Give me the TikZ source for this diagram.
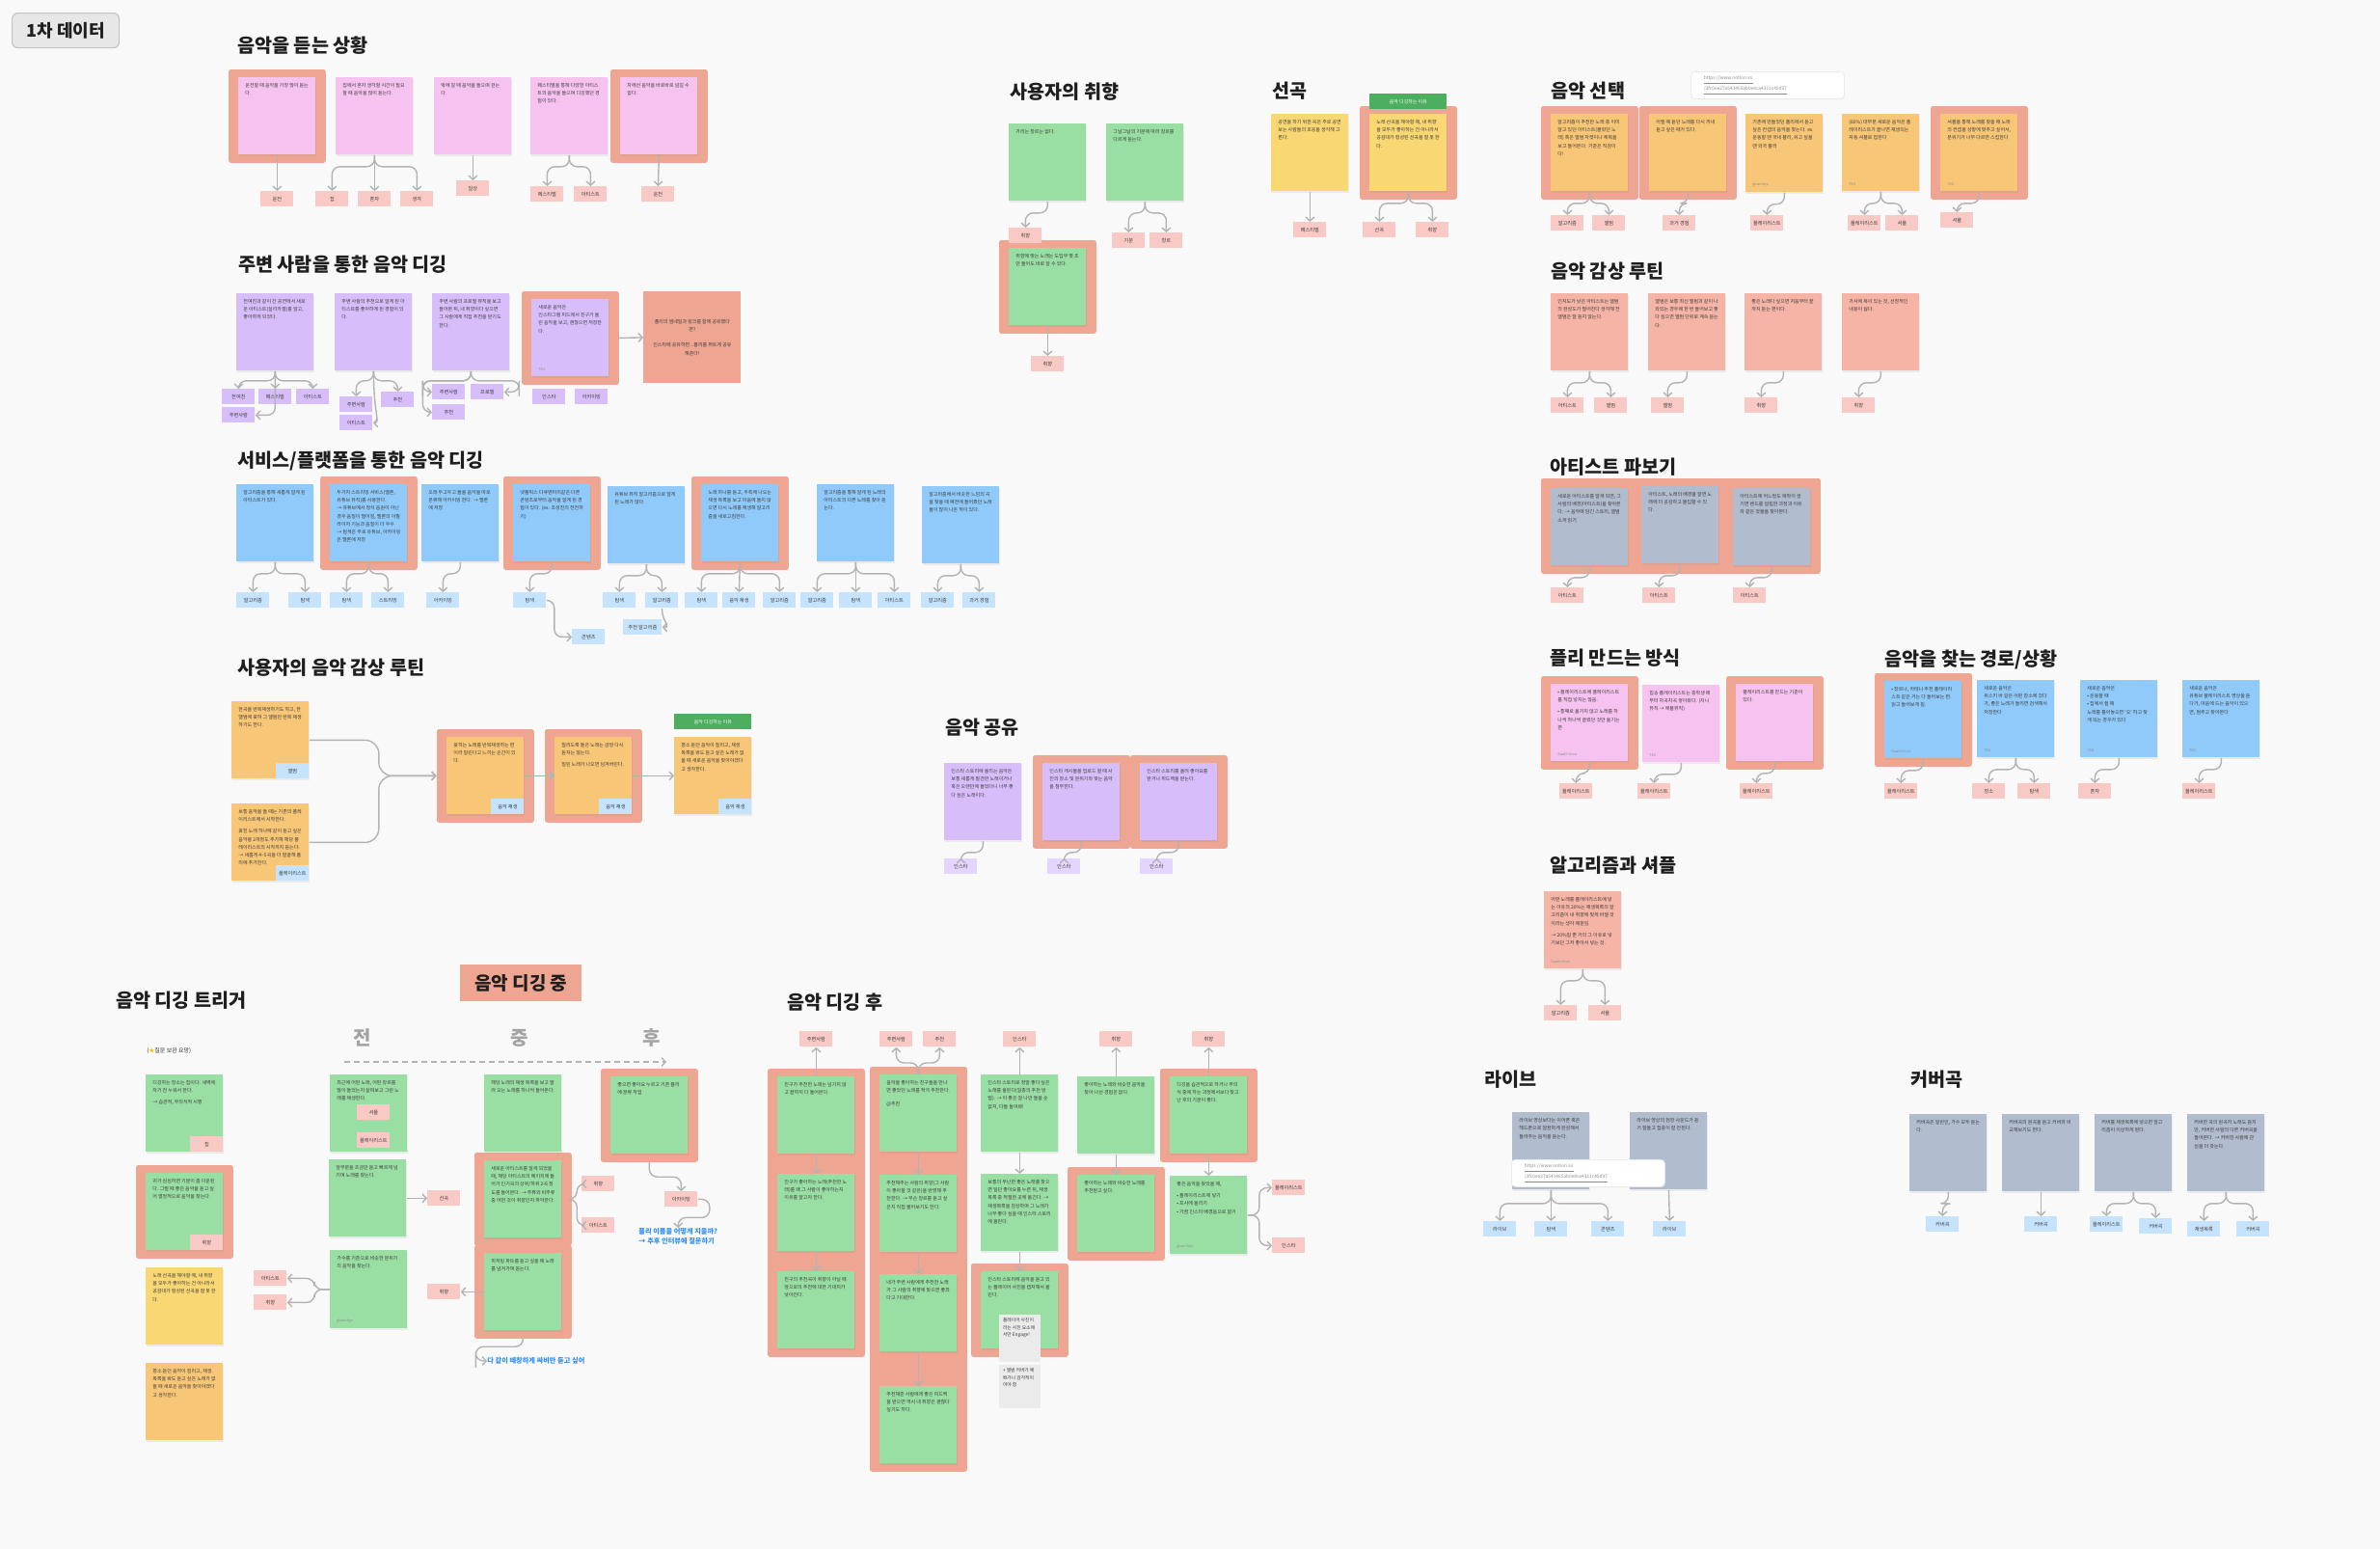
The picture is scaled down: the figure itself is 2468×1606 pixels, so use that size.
\documentclass[tikz,border=0pt]{standalone}
\usepackage{fontspec}
\setmainfont{Noto Sans CJK KR}
\usepackage{xcolor}
\usetikzlibrary{arrows.meta,fit,shadows}
\XeTeXlinebreaklocale "ko"
\XeTeXlinebreakskip=0pt plus 0.3pt

\definecolor{cBg}{HTML}{F9F9F9}
\definecolor{cFrame}{HTML}{EEA591}
\definecolor{cPink}{HTML}{F6C2EF}
\definecolor{cTag}{HTML}{F9CAC5}
\definecolor{cPurple}{HTML}{D7BEFB}
\definecolor{cLav}{HTML}{E3D5FD}
\definecolor{cBlueS}{HTML}{8FCAFA}
\definecolor{cTagBlue}{HTML}{C6E3FD}
\definecolor{cOrange}{HTML}{F8C677}
\definecolor{cGreen}{HTML}{99DEA3}
\definecolor{cYellow}{HTML}{F9D772}
\definecolor{cSlate}{HTML}{B1BCCF}
\definecolor{cSalm}{HTML}{F5B4A6}
\definecolor{cGreenL}{HTML}{4DAE5F}
\definecolor{cLine}{HTML}{B3B3B3}
\definecolor{cTxt}{HTML}{3A3A3A}
\definecolor{cHead}{HTML}{1E1E1E}
\definecolor{cBlueT}{HTML}{2F90F4}
\definecolor{cGray}{HTML}{A3A3A3}
\definecolor{cFoot}{HTML}{8C8C8C}
\definecolor{cNote}{HTML}{EBEBEB}
\definecolor{cTitle}{HTML}{E7E7E7}
\definecolor{cTitleB}{HTML}{C4C4C4}
\definecolor{cStar}{HTML}{F5C518}

\pgfdeclarelayer{bg}
\pgfdeclarelayer{frames}
\pgfsetlayers{bg,frames,main}

\newcommand{\nt}[1]{\parbox[t][34pt][t]{33pt}{\raggedright #1}}
\newcommand{\ntf}[2]{\parbox[t][34pt][s]{33pt}{\raggedright #1\par\vfill{\fontsize{1.8}{2}\selectfont\color{cFoot}#2}}}
\newcommand{\frm}[2]{\begin{pgfonlayer}{frames}\node[frame, fit=#2] (#1) {};\end{pgfonlayer}}

\begin{document}
\begin{tikzpicture}[x=0.5pt, y=-0.5pt,
    note/.style={anchor=north west, inner xsep=3.5pt, inner ysep=3pt, minimum width=40pt, minimum height=40pt,
        font=\fontsize{2.5}{4.1}\selectfont, text=cTxt,
        drop shadow={shadow xshift=0.3pt, shadow yshift=-0.6pt, opacity=0.12}},
    nPink/.style={note, fill=cPink},
    nPurple/.style={note, fill=cPurple},
    nBlue/.style={note, fill=cBlueS},
    nOrange/.style={note, fill=cOrange},
    nGreen/.style={note, fill=cGreen},
    nYellow/.style={note, fill=cYellow},
    nSlate/.style={note, fill=cSlate},
    nSalm/.style={note, fill=cSalm},
    frame/.style={fill=cFrame, inner xsep=5pt, inner ysep=4pt, rounded corners=1.2pt},
    tag/.style={anchor=north west, minimum width=17pt, minimum height=8pt, inner sep=0.5pt,
        font=\fontsize{2.6}{3}\selectfont, text=cTxt},
    tPink/.style={tag, fill=cTag},
    tPurple/.style={tag, fill=cPurple},
    tLav/.style={tag, fill=cLav},
    tBlue/.style={tag, fill=cTagBlue},
    head/.style={anchor=north west, inner sep=0pt, font=\fontsize{9.8}{11}\selectfont\bfseries, text=cHead},
    greenlbl/.style={anchor=north west, fill=cGreenL, minimum width=40pt, minimum height=8pt, inner sep=0pt,
        font=\fontsize{2.5}{3}\selectfont, text=white},
    linkcard/.style={anchor=north west, fill=white, draw=black!8, line width=0.4pt, rounded corners=2pt,
        minimum width=79.5pt, minimum height=14pt, inner sep=0pt, font=\fontsize{2.4}{3.4}\selectfont, text=cFoot,
        drop shadow={shadow xshift=0.2pt, shadow yshift=-0.5pt, opacity=0.08}},
    greynote/.style={anchor=north west, fill=cNote, inner sep=1.8pt, font=\fontsize{2.4}{3.6}\selectfont, text=cTxt,
        drop shadow={shadow xshift=0.2pt, shadow yshift=-0.5pt, opacity=0.12}},
    phase/.style={font=\fontsize{10}{11}\selectfont\bfseries, text=cGray},
    bluetxt/.style={inner sep=0pt, font=\fontsize{3.6}{5}\selectfont\bfseries, text=cBlueT},
    arr/.style={draw=cLine, line width=0.7pt, rounded corners=4pt, -{Straight Barb[length=2pt,width=4.4pt]}},
]
\useasboundingbox (0,0) rectangle (2468,1606);
\begin{pgfonlayer}{bg}
\fill[cBg] (0,0) rectangle (2468,1606);
\end{pgfonlayer}

% titulo
\node[anchor=north west, fill=cTitle, draw=cTitleB, line width=0.6pt, rounded corners=3pt, minimum width=55.5pt,
    minimum height=18pt, font=\fontsize{9}{10}\selectfont\bfseries, text=cHead] (title) at (12,13) {1차 데이터};

% 음악을 듣는 상황
\node[head] (h1) at (246,37) {음악을 듣는 상황};
\node[nPink] (s1) at (247,80) {\nt{운전할 때 음악을 가장 많이 듣는다.}};
\node[nPink] (s2) at (348,80) {\nt{집에서 혼자 생각할 시간이 필요할 때 음악을 많이 듣는다.}};
\node[nPink] (s3) at (450,80) {\nt{밖에 갈 때 음악을 들으며 걷는다.}};
\node[nPink] (s4) at (550,80) {\nt{페스티벌을 통해 다양한 아티스트의 음악을 들으며 디깅했던 경험이 있다.}};
\node[nPink] (s5) at (643,80) {\nt{차에선 음악을 바로바로 넘길 수 없다.}};
\frm{s1f}{(s1)} \frm{s5f}{(s5)}
\node[tPink] (s1a) at (270,198) {운전};
\node[tPink] (s2a) at (327,198) {집};
\node[tPink] (s2b) at (371,198) {혼자};
\node[tPink] (s2c) at (415,198) {생각};
\node[tPink] (s3a) at (473,187) {일상};
\node[tPink] (s4a) at (550,193) {페스티벌};
\node[tPink] (s4b) at (595,193) {아티스트};
\node[tPink] (s5a) at (665,193) {운전};
\draw[arr] (s1.south) -- (s1a.north);
\foreach \t in {s2a,s2b,s2c} \draw[arr] (s2.south) -- ++(0,12) -| (\t.north);
\draw[arr] (s3.south) -- (s3a.north);
\foreach \t in {s4a,s4b} \draw[arr] (s4.south) -- ++(0,12) -| (\t.north);
\draw[arr] (s5.south) -- (s5a.north);

% 주변 사람을 통한 음악 디깅
\node[head] (h2) at (247,265) {주변 사람을 통한 음악 디깅};
\node[nPurple] (p1) at (245,304) {\nt{전여친과 같이 간 공연에서 새로운 아티스트(실리카겔)를 알고, 좋아하게 되었다.}};
\node[nPurple] (p2) at (347,304) {\nt{주변 사람의 추천으로 알게 된 아티스트를 좋아하게 된 경험이 있다.}};
\node[nPurple] (p3) at (448,304) {\nt{주변 사람의 프로필 뮤직을 보고 들어본 뒤, 내 취향이다 싶으면 그 사람에게 직접 추천을 받기도 한다.}};
\node[nPurple] (p4) at (551,310) {\ntf{새로운 음악은\\인스타그램 피드에서 친구가 올린 음악을 보고, 괜찮으면 저장한다.}{TEO}};
\frm{p4f}{(p4)}
\node[anchor=north west, fill=cFrame, minimum width=50.5pt, minimum height=47.5pt, inner sep=0pt,
    font=\fontsize{2.5}{4.1}\selectfont, text=cTxt, align=center] (share) at (667,302)
    {\parbox{42pt}{\centering 플리의 썸네일과 링크를 함께 공유했다면?\\[4pt]인스타에 공유하면...플리를 퍼트게 공유해준다!}};
\node[tPurple] (p1a) at (230,403) {전여친};
\node[tPurple] (p1b) at (268,403) {페스티벌};
\node[tPurple] (p1c) at (307,403) {아티스트};
\node[tPurple] (p1d) at (230,422) {주변사람};
\node[tPurple] (p2a) at (352,411) {주변사람};
\node[tPurple] (p2b) at (352,430) {아티스트};
\node[tPurple] (p2c) at (395,406) {추천};
\node[tPurple] (p3a) at (448,398) {주변사람};
\node[tPurple] (p3b) at (488,398) {프로필};
\node[tPurple] (p3c) at (448,419) {추천};
\node[tPurple] (p4a) at (552,403) {인스타};
\node[tPurple] (p4b) at (596,403) {아카이빙};
\foreach \t in {p1a,p1b,p1c} \draw[arr] (p1.south) -- ++(0,10) -| (\t.north);
\draw[arr] (p1.south) |- (p1d.east);
\foreach \t in {p2a,p2c} \draw[arr] (p2.south) -- ++(0,10) -| (\t.north);
\draw[arr] (p2.south) .. controls +(0,45) and +(8,0) .. (p2b.east);
\foreach \t in {p3a,p3c} \draw[arr] (p3.south) -- ++(0,10) -| ++(-50,8) |- (\t.west);
\draw[arr] (p3.south) -- ++(0,10) -| ++(50,8) |- (p3b.east);
\draw[arr] (p4f.east) -- (share.west);

% 서비스/플랫폼을 통한 음악 디깅
\node[head] (h3) at (246,468) {서비스/플랫폼을 통한 음악 디깅};
\node[nBlue] (b1) at (245,502) {\nt{알고리즘을 통해 새롭게 알게 된 아티스트가 있다.}};
\node[nBlue] (b2) at (342,502) {\nt{두가지 스트리밍 서비스(멜론, 유튜브 뮤직)를 사용한다.\\→ 유튜브에서 정식 음원이 아닌 경우 음질이 떨어짐, 멜론의 이퀄라이저 기능과 음질이 더 우수\\→ 탐색은 주로 유튜브, 아카이빙은 멜론에 저장}};
\node[nBlue] (b3) at (437,502) {\nt{오래 두고두고 들을 음악을 따로 분류해 아카이빙 한다. → 멜론에 저장}};
\node[nBlue] (b4) at (532,502) {\nt{넷플릭스 다큐멘터리같은 다른 콘텐츠로부터 음악을 알게 된 경험이 있다. (ex. 조성진의 전전하기)}};
\node[nBlue] (b5) at (630,504) {\nt{유튜브 뮤직 알고리즘으로 알게 된 노래가 많다.}};
\node[nBlue] (b6) at (727,502) {\nt{노래 하나를 듣고, 우측에 나오는 재생 목록을 보고 마음에 들지 않으면 다시 노래를 재생해 알고리즘을 새로고침한다.}};
\node[nBlue] (b7) at (847,502) {\nt{알고리즘을 통해 알게 된 노래의 아티스트의 다른 노래를 찾아 듣는다.}};
\node[nBlue] (b8) at (956,504) {\nt{알고리즘에서 비슷한 느낌의 곡을 찾을 때 예전에 들어봤던 노래들이 많이 나온 적이 있다.}};
\frm{b2f}{(b2)} \frm{b4f}{(b4)} \frm{b6f}{(b6)}
\node[tBlue] (b1a) at (245,614) {알고리즘};
\node[tBlue] (b1b) at (299,614) {탐색};
\node[tBlue] (b2a) at (342,614) {탐색};
\node[tBlue] (b2b) at (385,614) {스트리밍};
\node[tBlue] (b3a) at (442,614) {아카이빙};
\node[tBlue] (b4a) at (532,614) {탐색};
\node[tBlue] (b4b) at (593,652) {콘텐츠};
\node[tBlue] (b5a) at (625,614) {탐색};
\node[tBlue] (b5b) at (669,614) {알고리즘};
\node[tBlue, minimum width=20pt] (b5c) at (646,642) {추천 알고리즘};
\node[tBlue] (b6a) at (710,614) {탐색};
\node[tBlue] (b6b) at (749,614) {음악 재생};
\node[tBlue] (b6c) at (791,614) {알고리즘};
\node[tBlue] (b7a) at (830,614) {알고리즘};
\node[tBlue] (b7b) at (870,614) {탐색};
\node[tBlue] (b7c) at (910,614) {아티스트};
\node[tBlue] (b8a) at (955,614) {알고리즘};
\node[tBlue] (b8b) at (998,614) {과거 경험};
\foreach \s/\t in {b1/b1a,b1/b1b,b2/b2a,b2/b2b,b3/b3a,b4/b4a,b5/b5a,b5/b5b,b6/b6a,b6/b6c,b7/b7a,b7/b7c,b8/b8a,b8/b8b}
    \draw[arr] (\s.south) -- ++(0,12) -| (\t.north);
\draw[arr] (b6.south) -- (b6b.north);
\draw[arr] (b7.south) -- (b7b.north);
\draw[arr] (b4a.east) -- ++(8,0) |- (b4b.west);
\draw[arr] (b5b.south) .. controls +(0,14) and +(10,0) .. (b5c.east);

% 사용자의 음악 감상 루틴
\node[head] (h4) at (246,683) {사용자의 음악 감상 루틴};
\node[nOrange] (o1) at (240,727) {\nt{한곡을 반복재생하기도 하고, 한 앨범에 꽂혀 그 앨범만 반복 재생하기도 한다.}};
\node[nOrange] (o2) at (240,833) {\nt{보통 음악을 들 때는 기존의 플레이리스트에서 시작한다.\\[2pt]꽂힌 노래 하나에 같이 듣고 싶은 음악을 2개정도 추가해 해당 플레이리스트의 시작까지 듣는다. → 새롭게 4\textasciitilde5곡을 더 발굴해 플리에 추가한다.}};
\node[nOrange] (o3) at (463,764) {\nt{꽂히는 노래를 반복재생하는 편이라 질린다고 느끼는 순간이 있다.}};
\node[nOrange] (o4) at (575,764) {\nt{질리도록 들은 노래는 금방 다시 듣지는 않는다.\\[2pt]질린 노래가 나오면 넘겨버린다.}};
\node[nOrange] (o5) at (699,764) {\nt{평소 듣던 음악이 질리고, 재생 목록을 봐도 듣고 싶은 노래가 없을 때 새로운 음악을 찾아야겠다고 생각한다.}};
\frm{o3f}{(o3)} \frm{o4f}{(o4)}
\node[greenlbl] (why1) at (699,740) {음악 디깅하는 이유};
\node[tBlue, anchor=south east] (o1a) at (o1.south east) {앨범};
\node[tBlue, anchor=south east] (o2a) at (o2.south east) {플레이리스트};
\node[tBlue, anchor=south east] (o3a) at (o3.south east) {음악 재생};
\node[tBlue, anchor=south east] (o4a) at (o4.south east) {음악 재생};
\node[tBlue, anchor=south east] (o5a) at (o5.south east) {음악 재생};
\draw[arr, rounded corners=7pt] (o1.east) -- ++(72,0) |- (o3f.west);
\draw[arr, rounded corners=7pt] (o2.east) -- ++(72,0) |- (o3f.west);
\draw[arr] (o3.east) -- (o4.west);
\draw[arr] (o4.east) -- (o5.west);

% 음악 공유
\node[head] (h5) at (980,745) {음악 공유};
\node[nPurple] (m1) at (979,791) {\nt{인스타 스토리에 올리는 음악은 보통 새롭게 발견한 노래이거나 혹은 오랜만에 들었더니 너무 좋다 싶은 노래이다.}};
\node[nPurple] (m2) at (1081,791) {\nt{인스타 게시물을 업로드 할 때 사진의 장소 및 분위기와 맞는 음악을 첨부한다.}};
\node[nPurple] (m3) at (1182,791) {\nt{인스타 스토리를 올려 좋아요를 받거나 피드백을 받는다.}};
\frm{m2f}{(m2)} \frm{m3f}{(m3)}
\node[tLav] (m1a) at (979,890) {인스타};
\node[tLav] (m2a) at (1086,890) {인스타};
\node[tLav] (m3a) at (1182,890) {인스타};
\foreach \s in {m1,m2,m3} \draw[arr] (\s.south) -- ++(0,12) -| (\s a.north);

% 사용자의 취향
\node[head] (h6) at (1047,85) {사용자의 취향};
\node[nGreen] (g1) at (1046,128) {\nt{가리는 장르는 없다.}};
\node[nGreen] (g2) at (1147,128) {\nt{그날그날의 기분에 따라 장르를 다르게 듣는다.}};
\node[nGreen] (g3) at (1046,257) {\nt{취향에 맞는 노래는 도입부 몇 초만 들어도 바로 알 수 있다.}};
\frm{g3f}{(g3)}
\node[tPink] (g1a) at (1046,236) {취향};
\node[tPink] (g2a) at (1153,241) {기분};
\node[tPink] (g2b) at (1192,241) {장르};
\node[tPink] (g3a) at (1069,369) {취향};
\draw[arr] (g1.south) -- ++(0,12) -| (g1a.north);
\foreach \t in {g2a,g2b} \draw[arr] (g2.south) -- ++(0,12) -| (\t.north);
\draw[arr] (g3.south) -- (g3a.north);

% 선곡
\node[head] (h7) at (1319,85) {선곡};
\node[nYellow] (y1) at (1318,118) {\nt{공연을 하기 위한 곡은 주로 공연 보는 사람들의 호응을 생각해 고른다.}};
\node[nYellow] (y2) at (1420,118) {\nt{노래 선곡을 해야할 때, 내 취향을 모두가 좋아하는 건 아니라서 공감대가 형성된 선곡을 잘 못 한다.}};
\frm{y2f}{(y2)}
\node[greenlbl] (why2) at (1420,97) {음악 디깅하는 이유};
\node[tPink] (y1a) at (1341,230) {페스티벌};
\node[tPink] (y2a) at (1413,230) {선곡};
\node[tPink] (y2b) at (1468,230) {취향};
\draw[arr] (y1.south) -- (y1a.north);
\foreach \t in {y2a,y2b} \draw[arr] (y2.south) -- ++(0,12) -| (\t.north);

% 음악 선택
\node[head] (h8) at (1608,85) {음악 선택};
\node[linkcard] (link1) at (1753,74) {\parbox{66pt}{\underline{https://www.notion.so}\\\underline{/3fc0ee27a541465ab0e8ca4311c45d97}}};
\node[nOrange] (c1) at (1608,118) {\nt{알고리즘이 추천한 노래 중 이미 알고 있던 아티스트(몰랐던 노래) 혹은 앨범 자켓이나 제목을 보고 들어본다. 기준은 직감이다!}};
\node[nOrange] (c2) at (1710,118) {\nt{어릴 때 듣던 노래를 다시 꺼내 듣고 싶은 때가 있다.}};
\node[nOrange] (c3) at (1810,118) {\ntf{기존에 만들었던 플리에서 듣고 싶은 컨셉의 음악을 찾는다. ex. 운동할 땐 국내 플리, 쉬고 싶을 땐 외국 플리}{gleamhye}};
\node[nOrange] (c4) at (1910,118) {\ntf{(80\%) 대부분 새로운 음악은 플레이리스트가 끝나면 재생되는 자동 셔플로 접한다}{TEO}};
\node[nOrange] (c5) at (2012,118) {\ntf{셔플을 통해 노래를 찾을 때 노래의 컨셉을 상황에 맞추고 싶어서, 분위기가 너무 다르면 스킵한다}{TEO}};
\frm{c1f}{(c1)} \frm{c2f}{(c2)} \frm{c5f}{(c5)}
\node[tPink] (c1a) at (1608,223) {알고리즘};
\node[tPink] (c1b) at (1651,223) {앨범};
\node[tPink] (c2a) at (1724,223) {과거 경험};
\node[tPink] (c3a) at (1815,223) {플레이리스트};
\node[tPink] (c4a) at (1916,223) {플레이리스트};
\node[tPink] (c4b) at (1955,223) {셔플};
\node[tPink] (c5a) at (2012,220) {셔플};
\foreach \s/\t in {c1/c1a,c1/c1b,c2/c2a,c3/c3a,c4/c4a,c4/c4b,c5/c5a}
    \draw[arr] (\s.south) -- ++(0,12) -| (\t.north);

% 음악 감상 루틴
\node[head] (h9) at (1608,272) {음악 감상 루틴};
\node[nSalm] (r1) at (1608,304) {\nt{인지도가 낮은 아티스트는 앨범의 완성도가 떨어진다 생각해 전 앨범은 잘 듣지 않는다.}};
\node[nSalm] (r2) at (1709,304) {\nt{앨범은 보통 최신 앨범과 같이 나와있는 경우에 한 번 들어보고 좋다 싶으면 앨범 단위로 계속 듣는다.}};
\node[nSalm] (r3) at (1809,304) {\nt{좋은 노래다 싶으면 처음부터 끝까지 듣는 편이다.}};
\node[nSalm] (r4) at (1910,304) {\nt{가사에 욕이 있는 것, 선정적인 내용이 싫다.}};
\node[tPink] (r1a) at (1608,412) {아티스트};
\node[tPink] (r1b) at (1653,412) {앨범};
\node[tPink] (r2a) at (1712,412) {앨범};
\node[tPink] (r3a) at (1809,412) {취향};
\node[tPink] (r4a) at (1910,412) {취향};
\foreach \s/\t in {r1/r1a,r1/r1b,r2/r2a,r3/r3a,r4/r4a}
    \draw[arr] (\s.south) -- ++(0,12) -| (\t.north);

% 아티스트 파보기
\node[head] (h10) at (1607,475) {아티스트 파보기};
\node[nSlate] (a1) at (1608,506) {\nt{새로운 아티스트를 알게 되면, 그 사람의 배경(아티스트)을 찾아본다. → 음악에 담긴 스토리, 앨범 소개 읽기}};
\node[nSlate] (a2) at (1702,504) {\nt{아티스트, 노래의 배경을 알면 노래에 더 공감하고 몰입할 수 있다.}};
\node[nSlate] (a3) at (1797,506) {\nt{아티스트에 어느정도 애착이 생기면 밴드를 설립한 과정과 이유와 같은 것들을 찾아본다.}};
\frm{af}{(a1)(a2)(a3)}
\node[tPink] (a1a) at (1608,609) {아티스트};
\node[tPink] (a2a) at (1703,609) {아티스트};
\node[tPink] (a3a) at (1797,609) {아티스트};
\foreach \s in {a1,a2,a3} \draw[arr] (\s.south) -- ++(0,12) -| (\s a.north);

% 플리 만드는 방식
\node[head] (h11) at (1607,673) {플리 만드는 방식};
\node[nPink] (f1) at (1608,709) {\ntf{• 플레이리스트에 플레이리스트를 직접 넣지는 않음.\\[2pt]• 통째로 옮기지 않고 노래를 하나씩 하나씩 골랐던 것만 옮기는 편}{Swath Yoon}};
\node[nPink] (f2) at (1703,710) {\ntf{힙송 플레이리스트는 중학생 때 부터 차곡차곡 쌓아왔다. (지니뮤직 → 애플뮤직)}{TEO}};
\node[nPink] (f3) at (1800,709) {\nt{플레이리스트를 만드는 기준이 있다.}};
\frm{f1f}{(f1)} \frm{f3f}{(f3)}
\node[tPink] (f1a) at (1617,812) {플레이리스트};
\node[tPink] (f2a) at (1698,812) {플레이리스트};
\node[tPink] (f3a) at (1804,812) {플레이리스트};
\foreach \s in {f1,f2,f3} \draw[arr] (\s.south) -- ++(0,12) -| (\s a.north);

% 음악을 찾는 경로/상황
\node[head] (h12) at (1954,673) {음악을 찾는 경로/상황};
\node[nBlue] (w1) at (1954,706) {\ntf{• 장르나, 카테나 추천 플레이리스트 같은 거는 다 들어보는 편. 읽고 들어보게 됨.}{Swath Yoon}};
\node[nBlue] (w2) at (2050,705) {\ntf{새로운 음악은\\위스키 바 같은 어떤 장소에 갔다가, 좋은 노래가 들리면 검색해서 저장한다}{TEO}};
\node[nBlue] (w3) at (2157,705) {\ntf{새로운 음악은\\• 운동할 때\\• 집에서 쉴 때\\노래를 틀어놓으면 `오' 하고 찾게 되는 경우가 있다}{TEO}};
\node[nBlue] (w4) at (2263,705) {\ntf{새로운 음악은\\유튜브 플레이리스트 영상을 듣다가, 마음에 드는 음악이 있으면, 멈추고 찾아본다}{TEO}};
\frm{w1f}{(w1)}
\node[tPink] (w1a) at (1954,812) {플레이리스트};
\node[tPink] (w2a) at (2045,812) {장소};
\node[tPink] (w2b) at (2092,812) {탐색};
\node[tPink] (w3a) at (2155,812) {혼자};
\node[tPink] (w4a) at (2263,812) {플레이리스트};
\foreach \s/\t in {w1/w1a,w2/w2a,w2/w2b,w3/w3a,w4/w4a}
    \draw[arr] (\s.south) -- ++(0,12) -| (\t.north);

% 알고리즘과 셔플
\node[head] (h13) at (1607,888) {알고리즘과 셔플};
\node[nSalm] (al) at (1601,924) {\ntf{어떤 노래를 플레이리스트에 넣는 이유의 20\%는 재생목록의 알고리즘이 내 취향에 맞게 바뀔 것이라는 생각 때문임.\\[2pt]→ 20\%일 뿐 거의 그 이유로 넣기보단 그저 좋아서 넣는 것.}{Swath Yoon}};
\node[tPink] (ala) at (1601,1042) {알고리즘};
\node[tPink] (alb) at (1647,1042) {셔플};
\foreach \t in {ala,alb} \draw[arr] (al.south) -- ++(0,12) -| (\t.north);

% 라이브
\node[head] (h14) at (1539,1110) {라이브};
\node[nSlate] (l1) at (1568,1153) {\nt{라이브 영상보다는 이어폰 혹은 헤드폰으로 깔끔하게 완성해서 들려주는 음악을 듣는다.}};
\node[nSlate] (l2) at (1690,1153) {\nt{라이브 영상의 현장 사운드가 듣기 힘들고 집중이 잘 안된다.}};
\node[linkcard] (link2) at (1567,1202) {\parbox{66pt}{\underline{https://www.notion.so}\\\underline{/3fc0ee27a541465ab0e8ca4311c45d97}}};
\node[tBlue] (l1a) at (1538,1266) {라이브};
\node[tBlue] (l1b) at (1591,1266) {탐색};
\node[tBlue] (l1c) at (1650,1266) {콘텐츠};
\node[tBlue] (l2a) at (1714,1266) {라이브};
\foreach \t in {l1a,l1b,l1c} \draw[arr] (l1.south) -- ++(0,14) -| (\t.north);
\draw[arr] (l2.south) -- (l2a.north);

% 커버곡
\node[head] (h15) at (1981,1110) {커버곡};
\node[nSlate] (v1) at (1980,1155) {\nt{커버곡은 일반인, 가수 모두 듣는다.}};
\node[nSlate] (v2) at (2076,1155) {\nt{커버곡의 원곡을 듣고 커버와 비교해보기도 한다.}};
\node[nSlate] (v3) at (2172,1155) {\nt{커버를 재생목록에 넣으면 알고리즘이 이상하게 된다.}};
\node[nSlate] (v4) at (2268,1155) {\nt{커버한 곡의 원곡자 노래도 듣지만, 커버한 사람의 다른 커버곡을 들어본다. → 커버한 사람에 관심을 더 갖는다.}};
\node[tBlue] (v1a) at (1997,1261) {커버곡};
\node[tBlue] (v2a) at (2099,1261) {커버곡};
\node[tBlue] (v3a) at (2167,1261) {플레이리스트};
\node[tBlue] (v3b) at (2218,1263) {커버곡};
\node[tBlue] (v4a) at (2268,1266) {재생목록};
\node[tBlue] (v4b) at (2319,1266) {커버곡};
\foreach \s/\t in {v1/v1a,v3/v3a,v3/v3b,v4/v4a,v4/v4b}
    \draw[arr] (\s.south) -- ++(0,12) -| (\t.north);
\draw[arr] (v2.south) -- (v2a.north);

% 음악 디깅 트리거 / 디깅 중
\node[head] (h16) at (120,1028) {음악 디깅 트리거};
\node[anchor=north west, fill=cFrame, minimum width=63pt, minimum height=19pt, inner sep=0pt,
    font=\fontsize{9.5}{10}\selectfont\bfseries, text=cHead] (during) at (477,1000) {음악 디깅 중};
\node[phase] (pre) at (376,1076) {전};
\node[phase] (mid) at (539,1076) {중};
\node[phase] (post) at (676,1076) {후};
\coordinate (dashS) at (357,1101);
\coordinate (dashE) at (691,1101);
\draw[cLine, line width=0.7pt, dash pattern=on 3pt off 2pt, -{Straight Barb[length=2pt,width=4.4pt]}] (dashS) -- (dashE);
\node[anchor=west, inner sep=0pt, font=\fontsize{3}{4}\selectfont, text=cTxt] (askmore) at (152,1090)
    {({\color{cStar}★}질문 보완 요망)};

\node[nGreen] (t1) at (151,1114) {\nt{디깅하는 장소는 집이다. 새벽에 자기 전 누워서 한다.\\[2pt]→ 습관적, 무의식적 시행}};
\node[nGreen] (t2) at (151,1216) {\nt{귀가 심심하면 기분이 좀 다운된다. 그럴 때 좋은 음악을 듣고 싶어 열정적으로 음악을 찾는다.}};
\frm{t2f}{(t2)}
\node[nYellow] (t3) at (151,1314) {\nt{노래 선곡을 해야할 때, 내 취향을 모두가 좋아하는 건 아니라서 공감대가 형성된 선곡을 잘 못 한다.}};
\node[nOrange] (t4) at (151,1413) {\nt{평소 듣던 음악이 질리고, 재생 목록을 봐도 듣고 싶은 노래가 없을 때 새로운 음악을 찾아야겠다고 생각한다.}};
\node[tPink, anchor=south east] (t1a) at (t1.south east) {집};
\node[tPink, anchor=south east] (t2a) at (t2.south east) {취향};

\node[nGreen] (d1) at (342,1114) {\nt{최근에 어떤 노래, 어떤 장르를 많이 들었는지 살펴보고 그런 노래를 재생한다.}};
\node[nGreen] (d2) at (341,1202) {\nt{앞부분을 조금만 듣고 빠르게 넘기며 노래를 찾는다.}};
\node[nGreen] (d3) at (342,1296) {\ntf{가수를 기준으로 비슷한 분위기의 음악을 찾는다.}{gleamhye}};
\node[tPink] (d1a) at (370,1145) {셔플};
\node[tPink] (d1b) at (370,1174) {플레이리스트};
\node[tPink] (d2a) at (443,1234) {선곡};
\node[tPink] (d3a) at (263,1317) {아티스트};
\node[tPink] (d3b) at (263,1342) {취향};
\draw[arr] (d2.east) -- (d2a.west);
\foreach \t in {d3a,d3b} \draw[arr] (d3.west) -- ++(-16,0) |- (\t.east);

\node[nGreen] (e1) at (502,1114) {\nt{해당 노래의 재생 목록을 보고 딸려 오는 노래를 하나씩 들어본다.}};
\node[nGreen] (e2) at (502,1203) {\nt{새로운 아티스트를 알게 되었을 때, 해당 아티스트의 페이지에 들어가 인기곡의 상위/하위 2곡 정도를 들어본다. → 주류와 비주류 중 어떤 것이 취향인지 파악한다.}};
\node[nGreen] (e3) at (502,1299) {\nt{피처링 파트를 듣고 싶을 때 노래를 넘겨가며 듣는다.}};
\frm{e2f}{(e2)} \frm{e3f}{(e3)}
\node[tPink] (e2a) at (603,1219) {취향};
\node[tPink] (e2b) at (603,1262) {아티스트};
\node[tPink] (e3a) at (443,1331) {취향};
\foreach \t in {e2a,e2b} \draw[arr] (e2f.east) -- ++(5,0) |- (\t.west);
\draw[arr] (e3.west) -- (e3a.east);
\node[bluetxt, anchor=west] (bt1) at (505,1411) {다 같이 떼창하게 싸비만 듣고 싶어};
\draw[arr] (e3f.south) -- ++(0,8) -| ++(-49,14) |- (bt1.west);

\node[nGreen] (k0) at (633,1116) {\nt{좋으면 좋아요 누르고 기존 플리에 분류 작업}};
\frm{k0f}{(k0)}
\node[tPink] (ark) at (689,1235) {아카이빙};
\node[bluetxt, anchor=north west, align=left] (bt2) at (662,1273) {플리 이름을 어떻게 지을까?\\→ 추후 인터뷰에 질문하기};
\draw[arr] (k0f.south) -- ++(0,15) -| (ark.north);
\draw[arr] (ark.east) -- ++(12,0) -- ++(0,19) -| (bt2.north);

% 음악 디깅 후
\node[head] (h17) at (816,1030) {음악 디깅 후};
\node[tPink] (u1) at (829,1069) {주변사람};
\node[tPink] (u2) at (912,1069) {주변사람};
\node[tPink] (u3) at (957,1069) {추천};
\node[tPink] (u4) at (1040,1069) {인스타};
\node[tPink] (u5) at (1140,1069) {취향};
\node[tPink] (u6) at (1236,1069) {취향};

\node[nGreen] (k1) at (806,1116) {\nt{친구가 추천한 노래는 넘기지 않고 끝까지 다 들어본다.}};
\node[nGreen] (k2) at (806,1217) {\nt{친구가 좋아하는 노래(추천한 노래)를 왜 그 사람이 좋아하는지 이유를 알고자 한다.}};
\node[nGreen] (k3) at (806,1318) {\nt{친구의 추천곡이 취향이 아닐 때 앞으로의 추천에 대한 기대치가 낮아진다.}};
\frm{k1f}{(k1)(k3)}
\node[nGreen] (q1) at (912,1114) {\nt{음악을 좋아하는 친구들을 만나면 좋았던 노래를 적극 추천한다.\\[3pt]@추천}};
\node[nGreen] (q2) at (912,1218) {\nt{추천해주는 사람의 취향(그 사람이 좋아할 것 같은)을 반영해 추천한다. → 무슨 장르를 듣고 싶은지 직접 물어보기도 한다.}};
\node[nGreen] (q3) at (912,1321) {\nt{내가 주변 사람에게 추천한 노래가 그 사람의 취향에 맞으면 좋겠다고 기대한다.}};
\node[nGreen] (q4) at (912,1437) {\nt{추천해준 사람에게 좋은 피드백을 받으면 역시 내 취향은 괜찮다 싶기도 하다.}};
\frm{q1f}{(q1)(q4)}
\node[nGreen] (x1) at (1017,1114) {\nt{인스타 스토리로 정말 좋다 싶은 노래를 올린다(일종의 추천 방법). → 이 좋은 걸 나만 들을 순 없지, 다들 들어봐!}};
\node[nGreen] (x2) at (1017,1217) {\nt{보통의 무난한 좋은 노래를 찾으면 일단 좋아요를 누른 뒤, 재생목록 중 적절한 곳에 옮긴다. → 재생목록을 감상하며 그 노래가 너무 좋다 싶을 때 인스타 스토리에 올린다.}};
\node[nGreen] (x3) at (1017,1318) {\nt{인스타 스토리에 음악을 듣고 있는 플레이어 사진을 캡처해서 올린다.}};
\frm{x3f}{(x3)}
\node[greynote] (gn1) at (1036,1363) {\parbox[t][20pt][t]{17.5pt}{\raggedright 플레이어 사진이라는 사진 요소에서만 Engage!}};
\node[greynote] (gn2) at (1036,1415) {\parbox[t][18pt][t]{17.5pt}{\raggedright + 앨범 커버가 예쁘거나 감각적이어야 함}};
\node[nGreen] (z1) at (1117,1116) {\nt{좋아하는 노래와 비슷한 음악을 찾아 나선 경험은 없다.}};
\node[nGreen] (z2) at (1117,1218) {\nt{좋아하는 노래와 비슷한 노래를 추천받고 싶다.}};
\frm{z2f}{(z2)}
\node[nGreen] (j1) at (1213,1116) {\nt{디깅을 습관적으로 하거나 무의식 중에 하는 과정에서보다 찾고난 후의 기분이 좋다.}};
\node[nGreen] (j2) at (1213,1219) {\ntf{좋은 음악을 찾았을 때,\\[2pt]• 플레이리스트에 넣기\\• 프사에 올리기\\• 가끔 인스타 배경음으로 깔기}{gleamhye}};
\frm{j1f}{(j1)}
\node[tPink] (j2a) at (1319,1223) {플레이리스트};
\node[tPink] (j2b) at (1319,1283) {인스타};

\draw[arr] (k1.north) -- (u1.south);
\draw[arr] (k1.south) -- (k2.north);
\draw[arr] (k2.south) -- (k3.north);
\foreach \t in {u2,u3} \draw[arr] (q1.north) -- ++(0,-12) -| (\t.south);
\draw[arr] (q1.south) -- (q2.north);
\draw[arr] (q2.south) -- (q3.north);
\draw[arr] (q3.south) -- (q4.north);
\draw[arr] (x1.north) -- (u4.south);
\draw[arr] (x1.south) -- (x2.north);
\draw[arr] (x2.south) -- (x3.north);
\draw[arr] (z1.north) -- (u5.south);
\draw[arr] (z1.south) -- (z2.north);
\draw[arr] (j1.north) -- (u6.south);
\draw[arr] (j1.south) -- (j2.north);
\foreach \t in {j2a,j2b} \draw[arr] (j2.east) -- ++(12,0) |- (\t.west);
\end{tikzpicture}
\end{document}
